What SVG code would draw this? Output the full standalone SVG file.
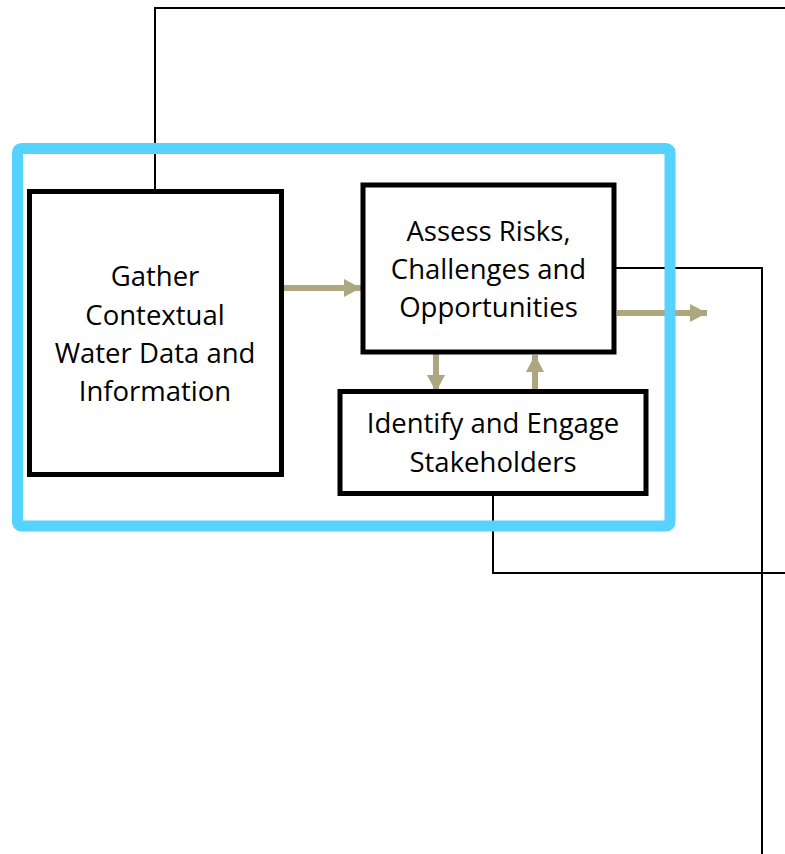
<svg xmlns="http://www.w3.org/2000/svg" width="785" height="854" viewBox="0 0 785 854">
  <defs>
    <style>
      .box { fill: #ffffff; stroke: #000000; stroke-width: 5; }
      .frame { fill: none; stroke: #55D3FE; stroke-width: 11; }
      .lbl { font-family: "Open Sans", "Noto Sans", sans-serif; font-size: 27.5px; fill: #000000; text-anchor: middle; }
      .link { fill: none; stroke: #000000; stroke-width: 2; }
      .flow { fill: none; stroke: #ADA67E; stroke-width: 6; }
    </style>
    <marker id="ah" markerUnits="userSpaceOnUse" markerWidth="18" markerHeight="18" refX="17" refY="9" orient="auto">
      <path d="M0,0 L17,9 L0,18 Z" fill="#ADA67E"/>
    </marker>
  </defs>
  <rect x="0" y="0" width="785" height="854" fill="#ffffff"/>

  <g id="connectors">
    <polyline class="link" points="155,190 155,8 785,8"/>
    <polyline class="link" points="616,268 762,268 762,854"/>
    <polyline class="link" points="493,495 493,573 785,573"/>
  </g>

  <g id="flows">
    <line class="flow" x1="284" y1="288" x2="361" y2="288" marker-end="url(#ah)"/>
    <line class="flow" x1="617" y1="313" x2="707" y2="313" marker-end="url(#ah)"/>
    <line class="flow" x1="436" y1="354" x2="436" y2="392" marker-end="url(#ah)"/>
    <line class="flow" x1="535" y1="390" x2="535" y2="355" marker-end="url(#ah)"/>
  </g>

  <g id="frame">
    <rect class="frame" x="17.5" y="148.5" width="652.5" height="377.5" rx="4"/>
  </g>

  <g id="gather">
    <rect class="box" x="29.5" y="191.5" width="252" height="283"/>
    <text class="lbl" x="155" y="286">Gather</text>
    <text class="lbl" x="155" y="325">Contextual</text>
    <text class="lbl" x="155" y="363">Water Data and</text>
    <text class="lbl" x="155" y="401">Information</text>
  </g>

  <g id="assess">
    <rect class="box" x="363" y="185" width="251" height="167"/>
    <text class="lbl" x="488.5" y="241">Assess Risks,</text>
    <text class="lbl" x="488.5" y="279">Challenges and</text>
    <text class="lbl" x="488.5" y="317">Opportunities</text>
  </g>

  <g id="identify">
    <rect class="box" x="340" y="391.5" width="306" height="102"/>
    <text class="lbl" x="493" y="433">Identify and Engage</text>
    <text class="lbl" x="493" y="472">Stakeholders</text>
  </g>
</svg>
